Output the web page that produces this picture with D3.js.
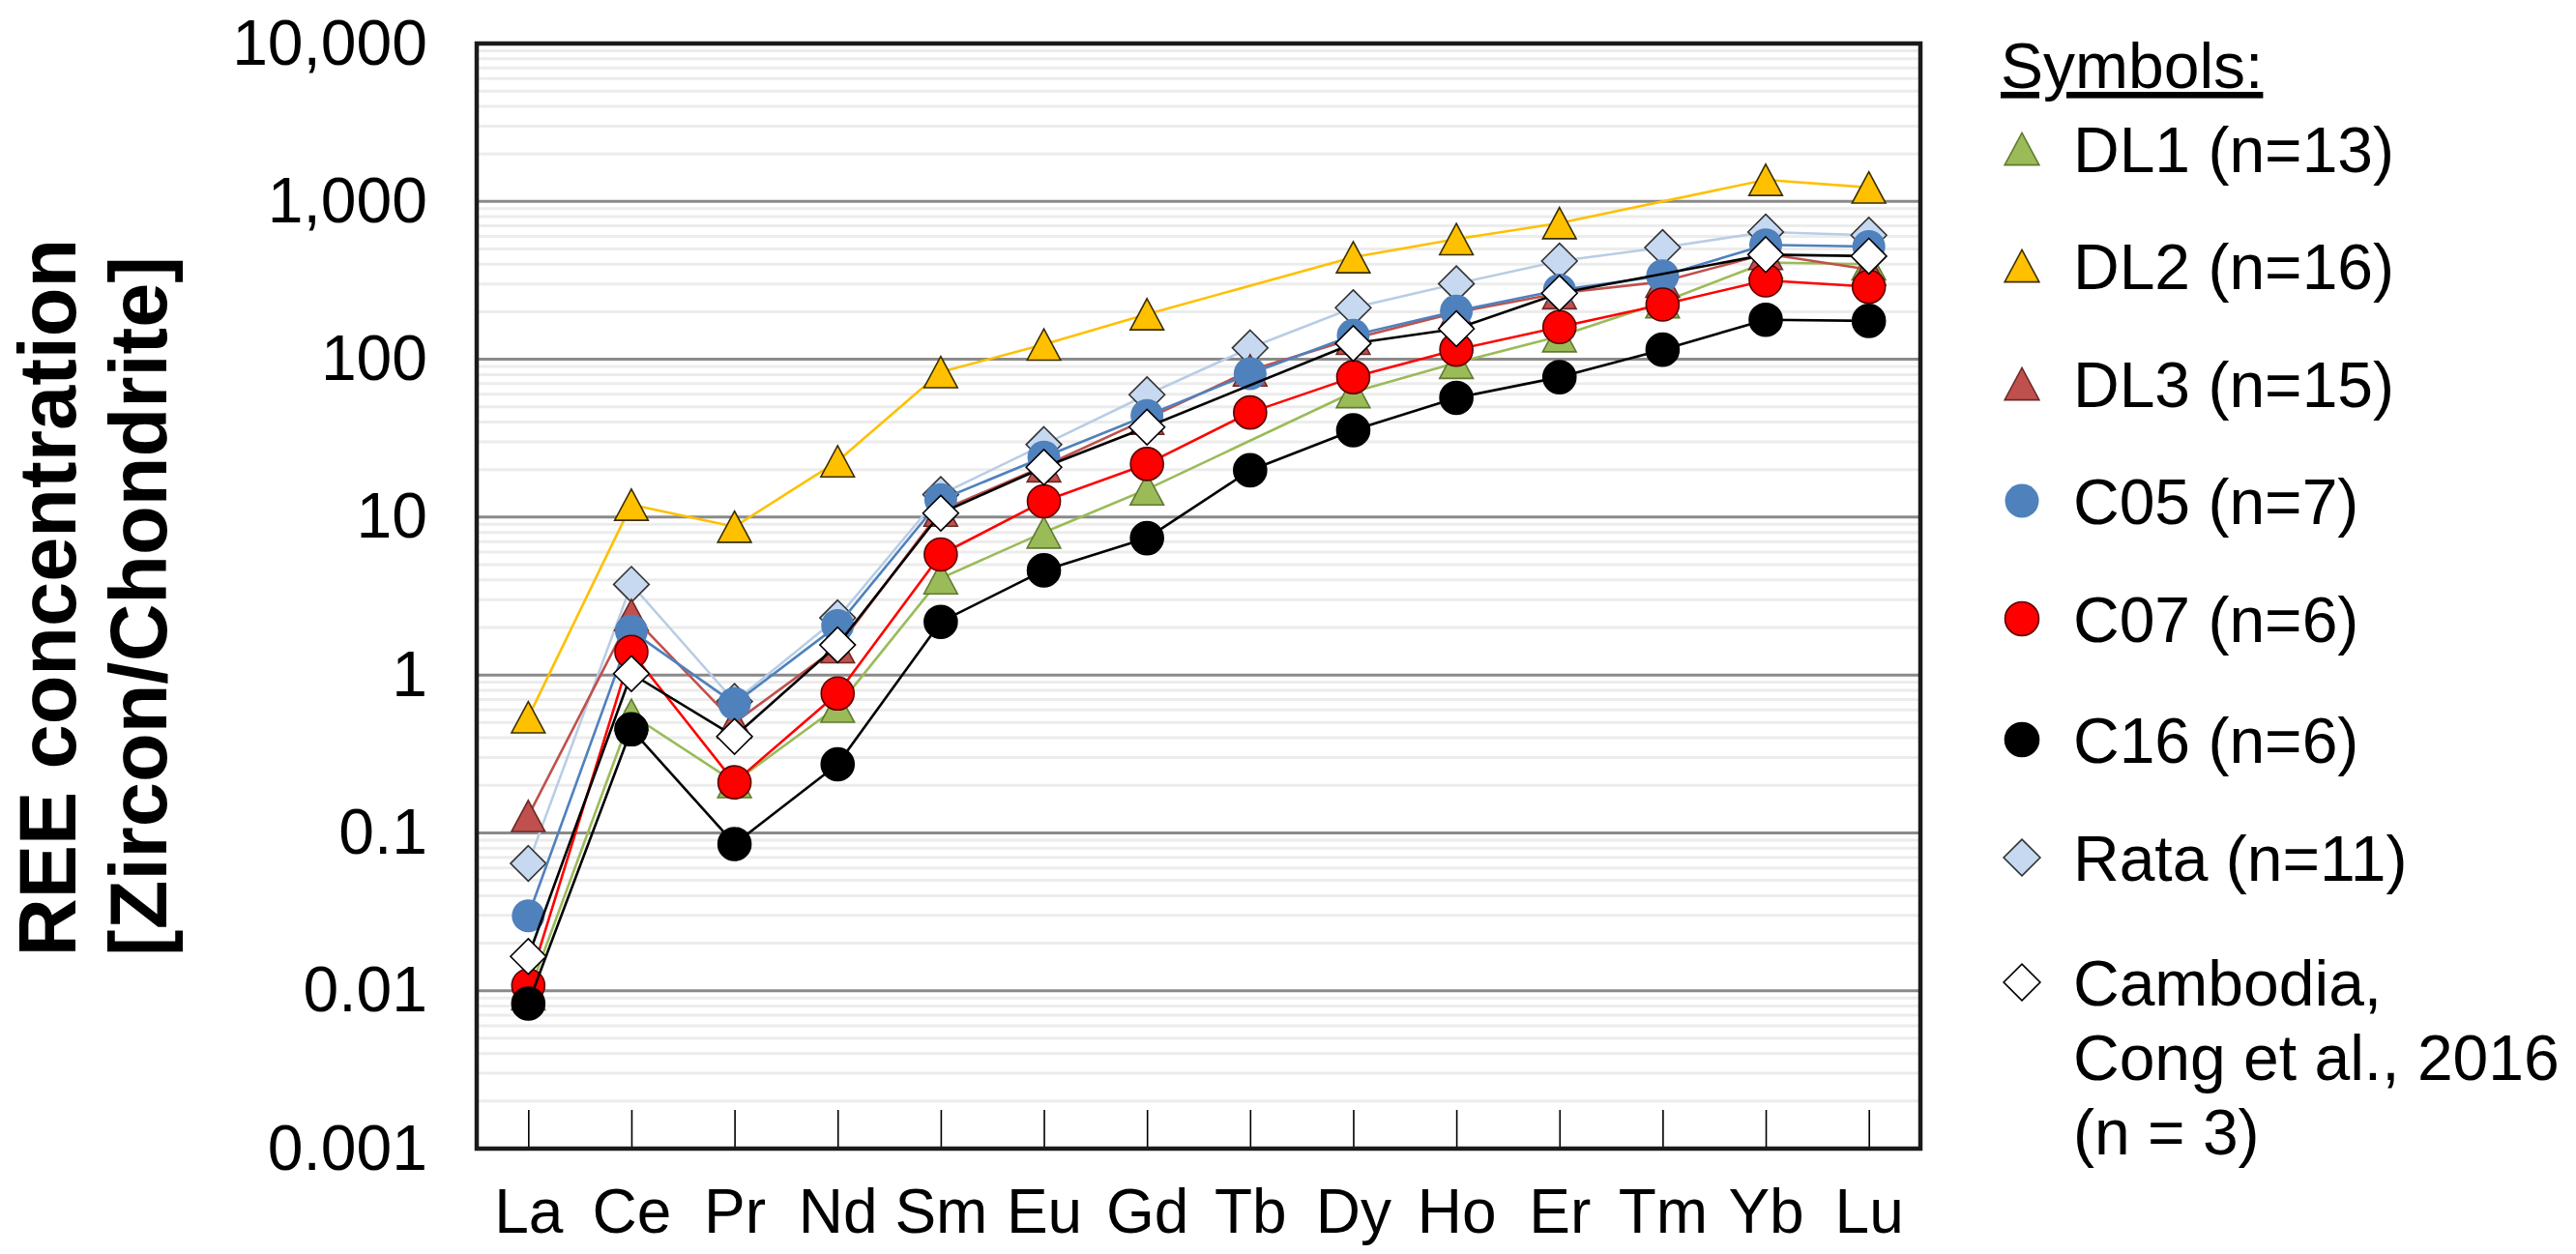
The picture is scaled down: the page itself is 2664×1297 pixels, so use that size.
<!DOCTYPE html>
<html>
<head>
<meta charset="utf-8">
<script src="https://cdn.jsdelivr.net/npm/d3@7/dist/d3.min.js"></script>
<style>
  html, body { margin: 0; padding: 0; background: #fff; }
  svg text { font-family: "Liberation Sans", Arial, sans-serif; }
</style>
</head>
<body>
<svg id="chart" width="2664" height="1297"></svg>
<script>
// ---------- data ----------
const elements = ["La","Ce","Pr","Nd","Sm","Eu","Gd","Tb","Dy","Ho","Er","Tm","Yb","Lu"];
const yTickValues = [0.001, 0.01, 0.1, 1, 10, 100, 1000, 10000];

const DL1  = [0.0095, 0.56, 0.21, 0.63, 4.1, 8.0, 15, null, 62, 95, 140, 230, 410, 400];
const DL2  = [0.54, 12, 8.7, 22.6, 83, 124, 193, null, 443, 577, 729, null, 1370, 1225];
const DL3  = [0.128, 2.4, 0.5, 1.5, 11, 21, 42, 85, 135, 198, 262, 310, 465, 370];
const C05  = [0.0298, 1.9, 0.66, 2.06, 12.9, 24, 44, 81, 142, 202, 274, 338, 530, 518];
const C07  = [0.0108, 1.4, 0.209, 0.763, 5.8, 12.6, 21.7, 46, 77, 115, 160, 222, 316, 288];
const C16  = [0.0083, 0.453, 0.085, 0.272, 2.17, 4.6, 7.36, 19.8, 35.5, 57, 77, 115, 178, 175];
const Rata = [0.064, 3.75, 0.68, 2.3, 13.9, 28.8, 59.6, 118, 212, 301, 419, 510, 640, 611];
const Cambodia = [0.0165, 1.02, 0.408, 1.55, 10.6, 20.7, 37.2, null, 126, 156, 262, null, 460, 450];

const legendLabels = [
  ["DL1 (n=13)"], ["DL2 (n=16)"], ["DL3 (n=15)"], ["C05 (n=7)"], ["C07 (n=6)"],
  ["C16 (n=6)"], ["Rata (n=11)"], ["Cambodia,", "Cong et al., 2016", "(n = 3)"]
];

// ---------- styles ----------
const series = [
  {name:"DL1", values:DL1, shape:"tri", fill:"#9BBB59", stroke:"#5f7a30", line:"#9BBB59", legend:0},
  {name:"DL2", values:DL2, shape:"tri", fill:"#FFC000", stroke:"#3a2e00", line:"#FFC000", legend:1},
  {name:"DL3", values:DL3, shape:"tri", fill:"#C0504D", stroke:"#6b2a28", line:"#C0504D", legend:2},
  {name:"C05", values:C05, shape:"circle", fill:"#4F81BD", stroke:"none", line:"#4F81BD", legend:3},
  {name:"C07", values:C07, shape:"circle", fill:"#FF0000", stroke:"#5a0000", line:"#FF0000", legend:4},
  {name:"C16", values:C16, shape:"circle", fill:"#000000", stroke:"#000000", line:"#000000", legend:5},
  {name:"Rata", values:Rata, shape:"diamond", fill:"#C6D9F1", stroke:"#333333", line:"#B9CDE5", legend:6},
  {name:"Cambodia", values:Cambodia, shape:"diamond", fill:"#FFFFFF", stroke:"#000000", line:"#000000", legend:7}
];
const drawOrder = ["Rata","DL1","DL2","DL3","C05","C07","C16","Cambodia"];

// ---------- layout ----------
const plot = {left: 493, right: 1986, top: 45, bottom: 1188};
const svg = d3.select("#chart");

const x = d3.scalePoint().domain(elements).range([plot.left, plot.right]).padding(0.5);
const y = d3.scaleLog().domain([0.001, 10000]).range([plot.bottom, plot.top]);

// minor gridlines
const minor = [];
for (let k = -3; k < 4; k++) for (let m = 2; m <= 9; m++) minor.push(m * Math.pow(10, k));
svg.append("g").selectAll("line").data(minor).join("line")
  .attr("x1", plot.left).attr("x2", plot.right)
  .attr("y1", d => y(d)).attr("y2", d => y(d))
  .attr("stroke", "#ececec").attr("stroke-width", 3);

// major gridlines
svg.append("g").selectAll("line").data(yTickValues.slice(1, -1)).join("line")
  .attr("x1", plot.left).attr("x2", plot.right)
  .attr("y1", d => y(d)).attr("y2", d => y(d))
  .attr("stroke", "#8a8a8a").attr("stroke-width", 3);

// y axis labels
const fmt = d3.format(",");
const yAxis = d3.axisLeft(y).tickValues(yTickValues).tickFormat(d => fmt(d)).tickSize(0).tickPadding(51);
const gy = svg.append("g").attr("transform", `translate(${plot.left},0)`).call(yAxis);
gy.select(".domain").remove();
gy.selectAll("text").attr("font-size", 66).attr("fill", "#000")
  .style("font-family", '"Liberation Sans", Arial, sans-serif');

// x axis with ticks pointing up
const xAxis = d3.axisBottom(x).tickSize(-40).tickPadding(42);
const gx = svg.append("g").attr("transform", `translate(0,${plot.bottom})`).call(xAxis);
gx.select(".domain").remove();
gx.selectAll(".tick line").attr("stroke", "#000").attr("stroke-width", 1.6);
gx.selectAll("text").attr("font-size", 64).attr("fill", "#000")
  .style("font-family", '"Liberation Sans", Arial, sans-serif');

// plot border
svg.append("rect").attr("x", plot.left).attr("y", plot.top)
  .attr("width", plot.right - plot.left).attr("height", plot.bottom - plot.top)
  .attr("fill", "none").attr("stroke", "#1a1a1a").attr("stroke-width", 4.5);

// marker path generator
function markerPath(shape, s) {
  if (shape === "tri") {
    const w = s * 1.02, h = s * 0.95;
    return `M0,${-h/2}L${w/2},${h/2}L${-w/2},${h/2}Z`;
  }
  if (shape === "diamond") {
    const r = s * 0.54;
    return `M0,${-r}L${r},0L0,${r}L${-r},0Z`;
  }
  const r = s / 2;
  return `M${r},0A${r},${r} 0 1,1 ${-r},0A${r},${r} 0 1,1 ${r},0Z`;
}

const line = d3.line().x(d => x(d.el)).y(d => y(d.v));
const MS = 34;

drawOrder.forEach(nm => {
  const s = series.find(q => q.name === nm);
  const pts = elements.map((el, i) => ({el, v: s.values[i]})).filter(d => d.v != null);
  const g = svg.append("g");
  g.append("path").datum(pts).attr("d", line)
    .attr("fill", "none").attr("stroke", s.line).attr("stroke-width", 2.6)
    .attr("stroke-linejoin", "round");
  g.selectAll("path.m").data(pts).join("path").attr("class", "m")
    .attr("transform", d => `translate(${x(d.el)},${y(d.v)})`)
    .attr("d", markerPath(s.shape, MS))
    .attr("fill", s.fill).attr("stroke", s.stroke).attr("stroke-width", 1.6);
});

// y title
const yt = svg.append("g").attr("font-weight", "bold").attr("font-size", 83).attr("fill", "#000");
yt.append("text").attr("transform", "translate(78,618) rotate(-90)")
  .attr("text-anchor", "middle").text("REE concentration");
yt.append("text").attr("transform", "translate(172,627) rotate(-90)")
  .attr("text-anchor", "middle").text("[Zircon/Chondrite]");

// legend
const lg = svg.append("g");
lg.append("text").attr("x", 2069).attr("y", 91).attr("font-size", 66)
  .attr("text-decoration", "underline").text("Symbols:");
const baselines = [178, 299, 421, 542, 664, 789, 911, 1040];
series.forEach(s => {
  const b = baselines[s.legend];
  lg.append("path").attr("transform", `translate(2091,${b - 24})`)
    .attr("d", markerPath(s.shape, 35))
    .attr("fill", s.fill).attr("stroke", s.stroke).attr("stroke-width", 1.6);
  const t = lg.append("text").attr("x", 2144).attr("y", b).attr("font-size", 66);
  legendLabels[s.legend].forEach((ln, i) => {
    t.append("tspan").attr("x", 2144).attr("y", b + i * 77).text(ln);
  });
});
</script>
</body>
</html>
